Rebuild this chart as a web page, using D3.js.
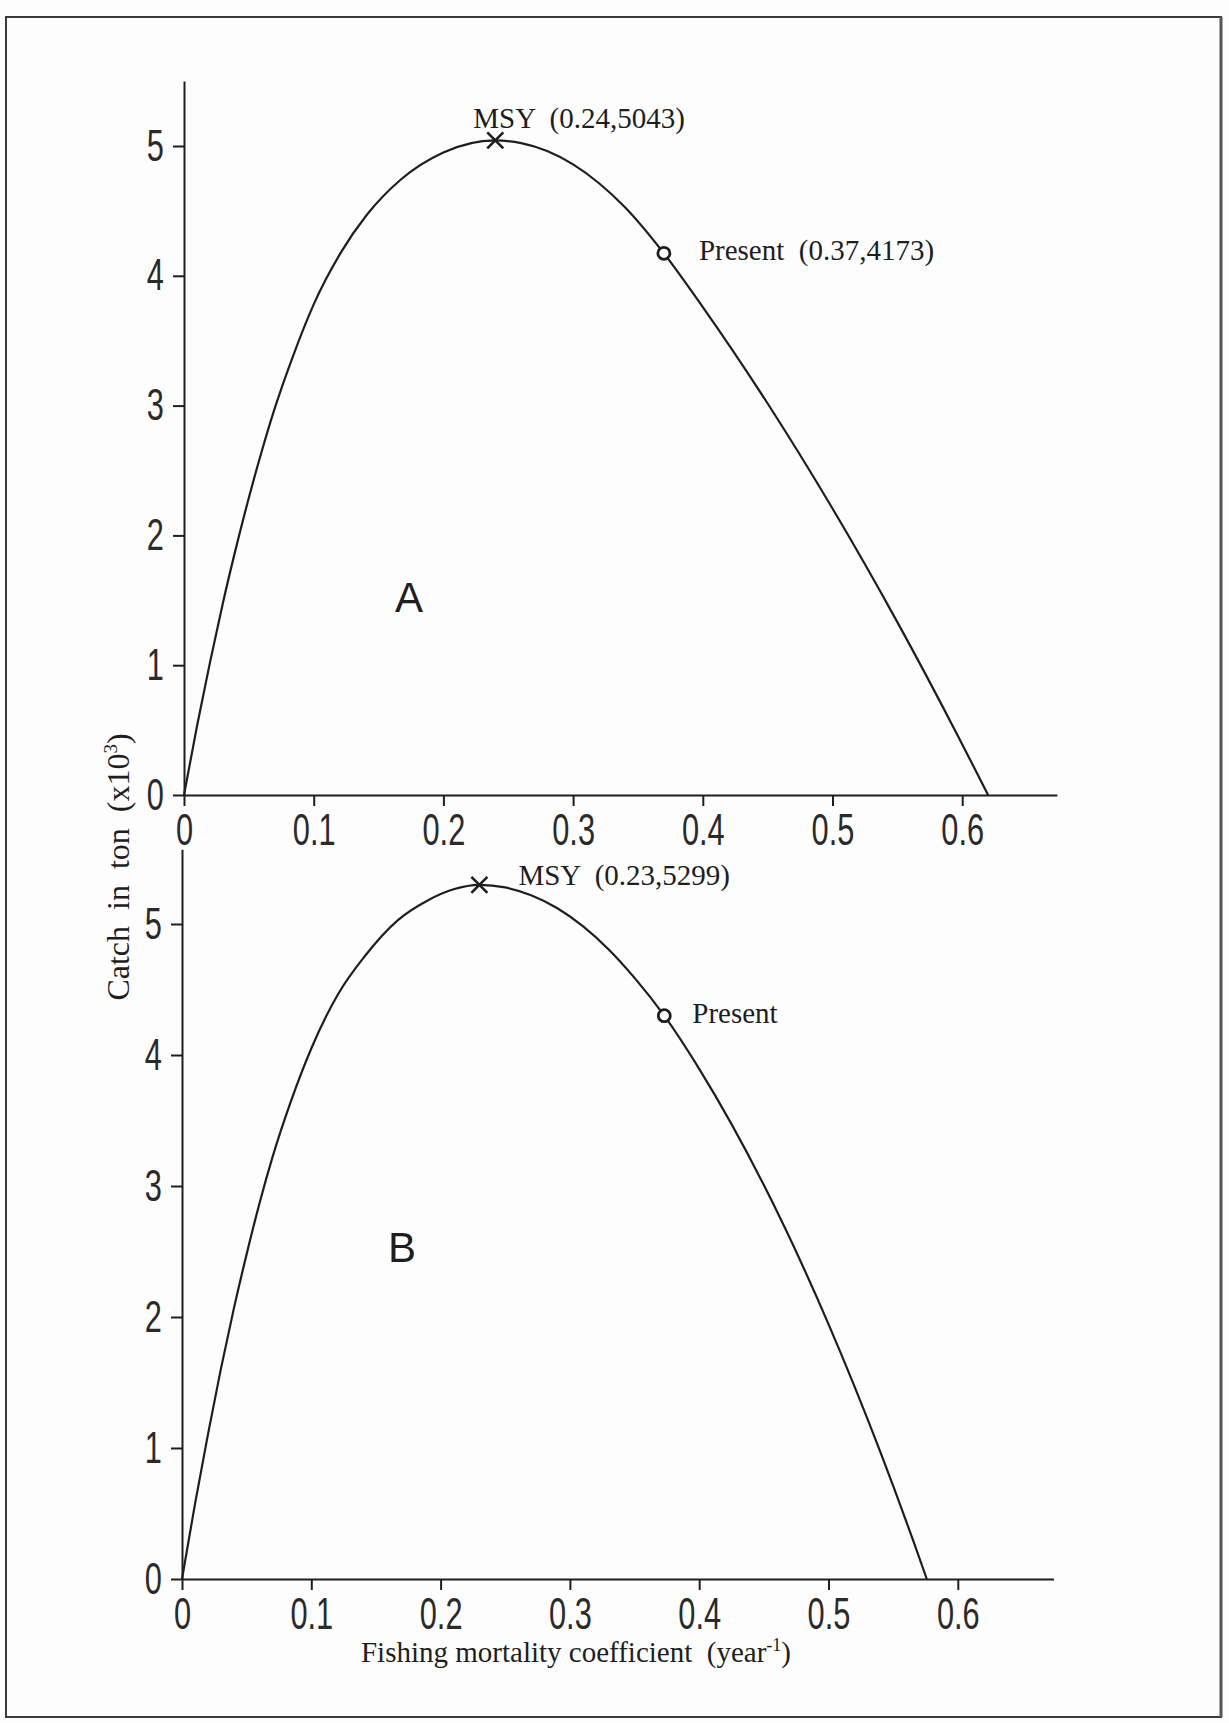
<!DOCTYPE html>
<html><head><meta charset="utf-8">
<script src="https://cdn.jsdelivr.net/npm/d3@7"></script>
<style>
html,body{margin:0;padding:0;background:#fff;}
svg{display:block;}
</style></head><body>
<svg id="chart" width="1229" height="1723"></svg>
<script>
// Yield curves: fishing mortality F (per year) against catch (tonnes x 10^3)
const fA     = [0, 0.01, 0.02, 0.03, 0.04, 0.05, 0.06, 0.07, 0.084, 0.1, 0.121, 0.141, 0.167, 0.2, 0.24, 0.26, 0.28, 0.3, 0.32, 0.34, 0.37, 0.4, 0.45, 0.5, 0.55, 0.5975, 0.62];
const catchA = [0, 0.53, 1.02, 1.48, 1.9, 2.29, 2.65, 2.98, 3.38, 3.78, 4.18, 4.47, 4.74, 4.95, 5.043, 5.022, 4.961, 4.858, 4.713, 4.528, 4.173, 3.759, 3.016, 2.207, 1.332, 0.44, 0];
const fB     = [0, 0.01, 0.02, 0.03, 0.04, 0.05, 0.06, 0.07, 0.084, 0.1, 0.121, 0.141, 0.167, 0.19, 0.21, 0.23, 0.25, 0.27, 0.29, 0.31, 0.33, 0.35, 0.373, 0.4, 0.45, 0.5, 0.54, 0.566, 0.576];
const catchB = [0, 0.57, 1.1, 1.6, 2.06, 2.48, 2.87, 3.22, 3.64, 4.05, 4.47, 4.75, 5.03, 5.18, 5.265, 5.299, 5.279, 5.22, 5.122, 4.984, 4.806, 4.589, 4.3, 3.894, 3.007, 1.946, 0.972, 0.279, 0];

// Marked points (MSY and present state) for panels A and B
const msyF         = [0.24, 0.23];
const msyCatch     = [5.043, 5.299];
const presentF     = [0.37, 0.373];
const presentCatch = [4.173, 4.3];
const msyLabels     = ["MSY  (0.24,5043)", "MSY  (0.23,5299)"];
const presentLabels = ["Present  (0.37,4173)", "Present"];
const panelNames    = ["A", "B"];

// Axis ticks
const xTicks      = [0, 0.1, 0.2, 0.3, 0.4, 0.5, 0.6];
const xTickLabels = ["0", "0.1", "0.2", "0.3", "0.4", "0.5", "0.6"];
const yTicks      = [0, 1, 2, 3, 4, 5];
const yTickLabels = ["0", "1", "2", "3", "4", "5"];

const yLabel = "Catch in ton";
const xLabel = "Fishing mortality coefficient";

const svg = d3.select("#chart");
const ink = "#1e1e1e";
const tickFont = "'Liberation Sans',Arial,sans-serif";
const serif = "'Liberation Serif','DejaVu Serif',serif";
const squeeze = 0.7;   // narrow stencil-style digits on the axes

// page background and frame
svg.append("rect").attr("width", 1229).attr("height", 1723).attr("fill", "#fdfdfd");
svg.append("rect").attr("x", 6).attr("y", 17).attr("width", 1215).attr("height", 1700)
  .attr("fill", "none").attr("stroke", "#3a3a3a").attr("stroke-width", 2);
svg.append("line").attr("x1", 1221).attr("x2", 1221).attr("y1", 17).attr("y2", 1717)
  .attr("stroke", "#555").attr("stroke-width", 3);

// panel geometry
const panels = [
  { left: 184, bottom: 795, xMax: 0.673, xPx: 1297, yMax: 5.5,  yPx: 129.8,
    f: fA, c: catchA, nameX: 409, nameY: 597,
    msyDx: -22, msyDy: -12, preDx: 35, preDy: 7 },
  { left: 182, bottom: 1579, xMax: 0.674, xPx: 1293, yMax: 5.57, yPx: 131,
    f: fB, c: catchB, nameX: 402, nameY: 1247,
    msyDx: 39, msyDy: 0, preDx: 28, preDy: 7 }
];

panels.forEach((p, i) => {
  const x = d3.scaleLinear().domain([0, p.xMax]).range([p.left, p.left + p.xMax * p.xPx]);
  const y = d3.scaleLinear().domain([0, p.yMax]).range([p.bottom, p.bottom - p.yMax * p.yPx]);
  const g = svg.append("g");

  const xAxis = d3.axisBottom(x).tickValues(xTicks)
    .tickFormat((d, k) => xTickLabels[k]).tickSize(11).tickSizeOuter(0).tickPadding(8);
  const yAxis = d3.axisLeft(y).tickValues(yTicks)
    .tickFormat((d, k) => yTickLabels[k]).tickSize(11).tickSizeOuter(0).tickPadding(9);

  const gx = g.append("g").attr("transform", `translate(0,${p.bottom})`).call(xAxis);
  const gy = g.append("g").attr("transform", `translate(${p.left},0)`).call(yAxis);
  [gx, gy].forEach(a => {
    a.selectAll("path,line").attr("stroke", ink).attr("stroke-width", 2);
    a.selectAll("text").attr("fill", "#2a2a2a").attr("font-family", tickFont)
      .attr("font-size", 44)
      .attr("transform", `scale(${squeeze},1)`)
      .attr("x", function () { return (+d3.select(this).attr("x") || 0) / squeeze; });
  });

  // yield curve
  const pts = p.f.map((fv, k) => [fv, p.c[k]]);
  g.append("path").datum(pts)
    .attr("d", d3.line().x(d => x(d[0])).y(d => y(d[1])).curve(d3.curveMonotoneX))
    .attr("fill", "none").attr("stroke", ink).attr("stroke-width", 2.2);

  // MSY cross
  const mx = x(msyF[i]), my = y(msyCatch[i]);
  g.append("path").attr("d", `M${mx-8},${my-8}L${mx+8},${my+8}M${mx-8},${my+8}L${mx+8},${my-8}`)
    .attr("stroke", ink).attr("stroke-width", 2.6);
  g.append("text").attr("x", mx + p.msyDx).attr("y", my + p.msyDy)
    .attr("font-family", serif).attr("font-size", 29).attr("fill", ink)
    .style("white-space", "pre").text(msyLabels[i]);

  // present state circle
  const px = x(presentF[i]), py = y(presentCatch[i]);
  g.append("circle").attr("cx", px).attr("cy", py).attr("r", 6)
    .attr("fill", "#fdfdfd").attr("stroke", ink).attr("stroke-width", 2.8);
  g.append("text").attr("x", px + p.preDx).attr("y", py + p.preDy)
    .attr("font-family", serif).attr("font-size", 29).attr("fill", ink)
    .style("white-space", "pre").text(presentLabels[i]);

  // panel letter
  g.append("text").attr("x", p.nameX).attr("y", p.nameY).attr("text-anchor", "middle")
    .attr("dominant-baseline", "central")
    .attr("font-family", "'Liberation Sans',sans-serif").attr("font-size", 42)
    .attr("fill", ink).text(panelNames[i]);
});

// axis titles
const yt = svg.append("text").attr("transform", "translate(129,867) rotate(-90)")
  .attr("text-anchor", "middle").attr("font-family", serif).attr("font-size", 32)
  .attr("word-spacing", 8).attr("fill", ink).style("white-space", "pre");
yt.append("tspan").text(yLabel + " (x10");
yt.append("tspan").attr("font-size", 19).attr("dy", -12).text("3");
yt.append("tspan").attr("dy", 12).text(")");

const xt = svg.append("text").attr("x", 576).attr("y", 1662)
  .attr("text-anchor", "middle").attr("font-family", serif).attr("font-size", 29)
  .attr("fill", ink).style("white-space", "pre");
xt.append("tspan").text(xLabel + "  (year");
xt.append("tspan").attr("font-size", 18).attr("dy", -11).text("-1");
xt.append("tspan").attr("dy", 11).text(")");
</script>
</body></html>
